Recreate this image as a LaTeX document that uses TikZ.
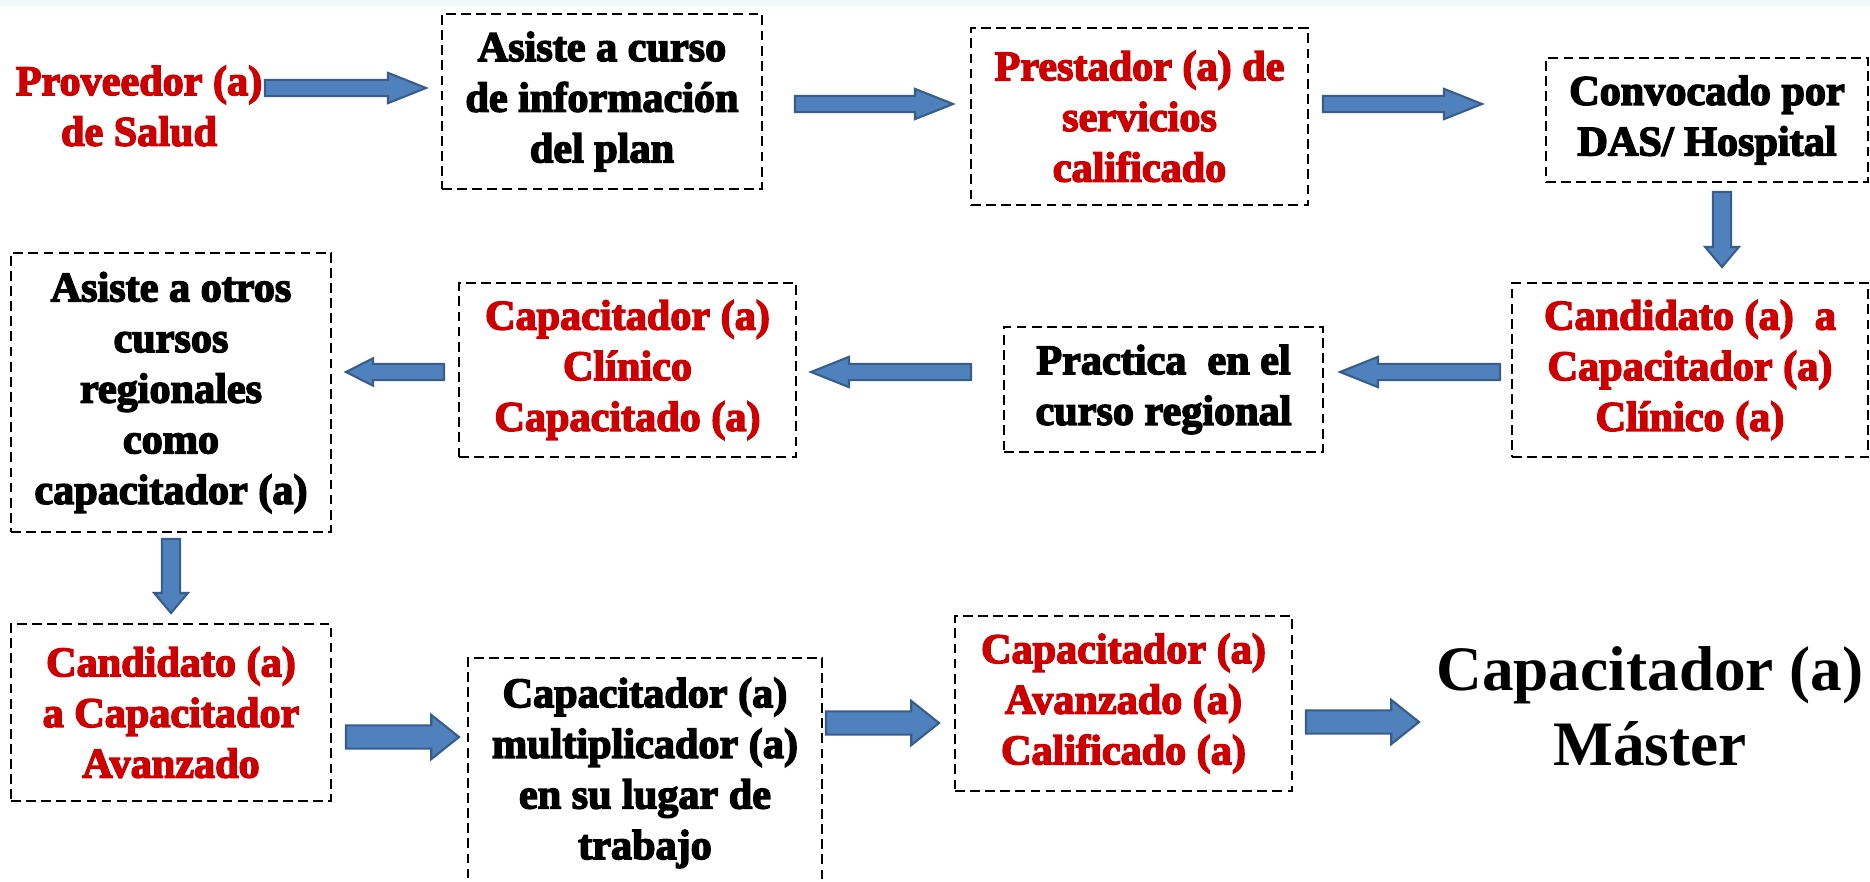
\documentclass[tikz,border=0pt]{standalone}
\usepackage{fontspec}
\setmainfont{Liberation Serif}[BoldFeatures={FakeBold=3.5}]
\newfontfamily\masterfont{Liberation Serif}
\usetikzlibrary{calc}
\definecolor{arrowfill}{RGB}{79,129,189}
\definecolor{arrowline}{RGB}{56,93,138}
\definecolor{redtxt}{RGB}{204,0,0}
\definecolor{topband}{RGB}{240,250,253}
\tikzset{
  box/.style={draw=black, line width=0.6pt, dash pattern=on 2.8pt off 1.5pt,
    align=center, inner sep=0pt, font=\fontsize{12}{14.4}\selectfont\bfseries},
  plain/.style={align=center, inner sep=0pt, font=\fontsize{12}{14.4}\selectfont\bfseries},
  red/.style={text=redtxt},
  blockarrow/.style n args={3}{draw=arrowline, fill=arrowfill, line width=0.6pt, line join=miter,
    to path={let \p1=($(\tikztotarget)-(\tikztostart)$), \n1={veclen(\x1,\y1)}, \n2={atan2(\y1,\x1)} in
      {[shift={(\tikztostart)}, rotate=\n2] (0pt,-#1) -- (\n1-#3,-#1) -- (\n1-#3,-#2) -- (\n1,0pt)
        -- (\n1-#3,#2) -- (\n1-#3,#1) -- (0pt,#1) -- cycle}}},
  rowarrow/.style={blockarrow={2.3pt}{4.3pt}{10.8pt}},
  smallarrow/.style={blockarrow={2.3pt}{3.9pt}{7.7pt}},
  downarrow/.style={blockarrow={2.6pt}{4.8pt}{5.7pt}},
  bigarrow/.style={blockarrow={3.3pt}{6.3pt}{7.9pt}}
}
\begin{document}
\begin{tikzpicture}[x=0.01cm,y=-0.01cm]
\useasboundingbox (0,0) rectangle (1870,882);
\clip (0,0) rectangle (1870,882);
\fill[white] (0,0) rectangle (1870,882);
\fill[topband] (0,0) rectangle (1870,6);

% row 1
\node[plain, red] (prov) at (139,106) {Proveedor (a)\\de Salud};
\node[box, minimum width=3.20cm, minimum height=1.75cm] (asiste) at (602,101.5)
  {Asiste a curso\\de información\\del plan};
\node[box, red, minimum width=3.37cm, minimum height=1.77cm] (prest) at (1139.5,116.5)
  {Prestador (a) de\\servicios\\calificado};
\node[box, minimum width=3.22cm, minimum height=1.24cm] (conv) at (1707,120)
  {Convocado por\\DAS/ Hospital};

% row 2
\node[box, red, minimum width=3.56cm, minimum height=1.74cm] (cand1) at (1690,370)
  {Candidato (a)~~a\\Capacitador (a)\\Clínico (a)};
\node[box, minimum width=3.19cm, minimum height=1.25cm] (pract) at (1163.5,389.5)
  {Practica~~en el\\curso regional};
\node[box, red, minimum width=3.37cm, minimum height=1.74cm] (clin) at (627.5,370)
  {Capacitador (a)\\Clínico\\Capacitado (a)};
\node[box, minimum width=3.20cm, minimum height=2.79cm] (otros) at (171,392.5)
  {Asiste a otros\\cursos\\regionales\\como\\capacitador (a)};

% row 3
\node[box, red, minimum width=3.20cm, minimum height=1.77cm] (cand2) at (171,712.5)
  {Candidato (a)\\a Capacitador\\Avanzado};
\node[box, minimum width=3.54cm, minimum height=2.30cm] (mult) at (645,773)
  {Capacitador (a)\\multiplicador (a)\\en su lugar de\\trabajo};
\node[box, red, minimum width=3.37cm, minimum height=1.75cm] (avz) at (1123.5,703.5)
  {Capacitador (a)\\Avanzado (a)\\Calificado (a)};
\node[align=center, inner sep=0pt, font=\masterfont\bfseries\fontsize{18}{21.3}\selectfont]
  (master) at (1650,706) {Capacitador (a)\\Máster};

% arrow end points
\coordinate (a1s) at (265,88);   \coordinate (a1e) at (426,88);
\coordinate (a2s) at (795,104);  \coordinate (a2e) at (953,104);
\coordinate (a3s) at (1323,104); \coordinate (a3e) at (1482,104);
\coordinate (a4s) at (1722,192); \coordinate (a4e) at (1722,267);
\coordinate (a5s) at (1500,372); \coordinate (a5e) at (1340,372);
\coordinate (a6s) at (971,372);  \coordinate (a6e) at (811,372);
\coordinate (a7s) at (444,372);  \coordinate (a7e) at (346,372);
\coordinate (a8s) at (171,539);  \coordinate (a8e) at (171,613);
\coordinate (a9s) at (346,737);  \coordinate (a9e) at (459,737);
\coordinate (a10s) at (826,723); \coordinate (a10e) at (939,723);
\coordinate (a11s) at (1306,722);\coordinate (a11e) at (1419,722);

\draw[rowarrow] (a1s) to (a1e);
\draw[rowarrow] (a2s) to (a2e);
\draw[rowarrow] (a3s) to (a3e);
\draw[downarrow] (a4s) to (a4e);
\draw[rowarrow] (a5s) to (a5e);
\draw[rowarrow] (a6s) to (a6e);
\draw[smallarrow] (a7s) to (a7e);
\draw[downarrow] (a8s) to (a8e);
\draw[bigarrow] (a9s) to (a9e);
\draw[bigarrow] (a10s) to (a10e);
\draw[bigarrow] (a11s) to (a11e);
\end{tikzpicture}
\end{document}
